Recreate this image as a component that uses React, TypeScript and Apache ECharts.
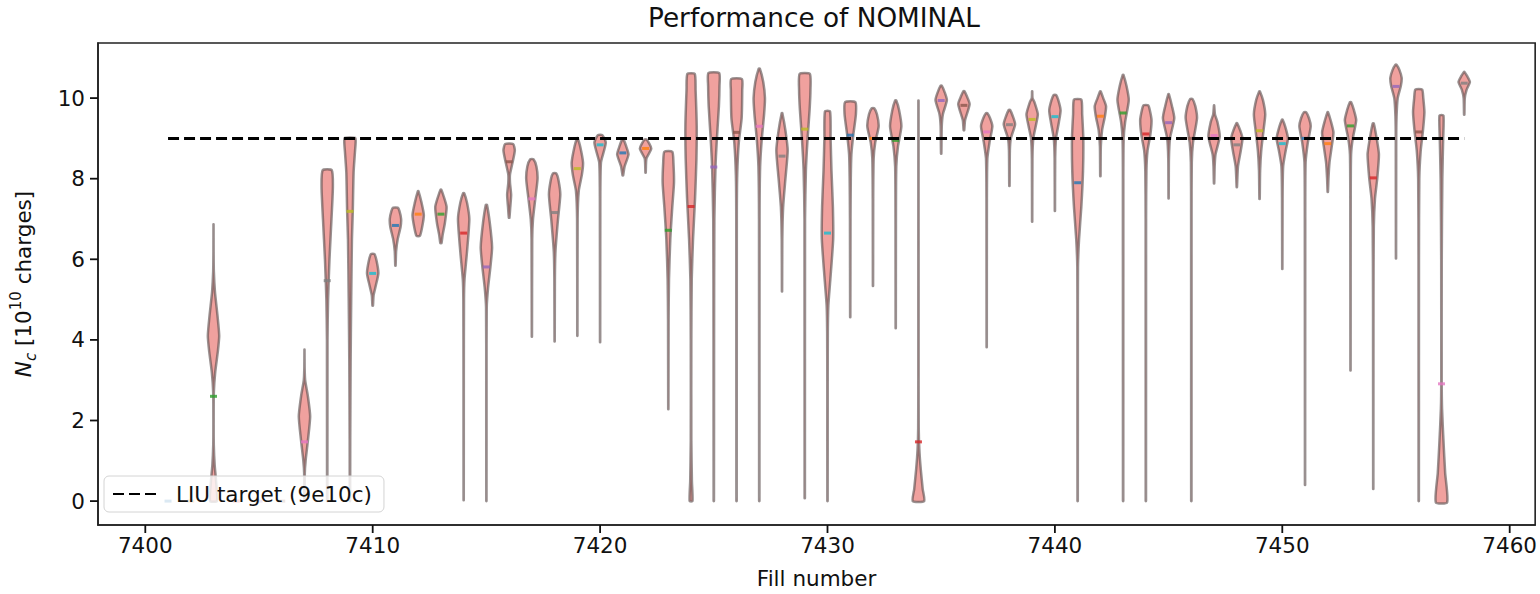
import React, { useEffect, useRef } from "react";
import * as echarts from "echarts";

const FONT = "DejaVu Sans";

const chartTitle = "Performance of NOMINAL";
const xAxisTitle = "Fill number";
const targetName = "LIU target (9e10c)";
const xTicks = [7400, 7410, 7420, 7430, 7440, 7450, 7460];
const yTicks = [0, 2, 4, 6, 8, 10];
const xRange = [7397.92, 7461.12];
const yRange = [-0.593, 11.367];
const targetValue = 9;
const targetFills = [7401, 7458];

const violinFills = [
  7403, 7407, 7408, 7409, 7410, 7411, 7412, 7413, 7414, 7415, 7416, 7417, 7418, 7419, 7420,
  7421, 7422, 7423, 7424, 7425, 7426, 7427, 7428, 7429, 7430, 7431, 7432, 7433, 7434, 7435,
  7436, 7437, 7438, 7439, 7440, 7441, 7442, 7443, 7444, 7445, 7446, 7447, 7448, 7449, 7450,
  7451, 7452, 7453, 7454, 7455, 7456, 7457, 7458,
];

// density profile of each violin: [charge, relative half-width]
const violinProfiles: number[][][] = [
  [[0, 0.6], [0.5, 0.45], [0.9, 0.2], [1.4, 0.05], [2.0, 0.03], [2.7, 0.06], [3.2, 0.3], [3.7, 0.75], [4.1, 1.0], [4.6, 0.7], [5.2, 0.25], [5.7, 0.06], [6.2, 0.02], [6.87, 0.01]],
  [[0, 0.03], [0.7, 0.06], [1.0, 0.2], [1.5, 0.6], [2.1, 1.0], [2.6, 0.6], [3.0, 0.12], [3.3, 0.03], [3.76, 0.01]],
  [[0, 0.03], [4.0, 0.05], [5.0, 0.15], [6.0, 0.4], [7.0, 0.75], [7.8, 1.0], [8.21, 0.8]],
  [[0, 0.03], [1.5, 0.05], [3.5, 0.12], [5, 0.22], [6.5, 0.35], [7.2, 0.5], [8.15, 0.64], [8.7, 0.9], [8.9, 1.0], [9.01, 0.93]],
  [[4.85, 0.05], [5.1, 0.15], [5.35, 0.55], [5.65, 1.0], [5.95, 0.7], [6.13, 0.3]],
  [[5.84, 0.03], [6.2, 0.12], [6.5, 0.4], [6.8, 0.9], [7.0, 1.0], [7.2, 0.7], [7.28, 0.4]],
  [[6.58, 0.3], [6.8, 0.7], [7.1, 1.0], [7.4, 0.6], [7.69, 0.05]],
  [[6.4, 0.1], [6.6, 0.3], [6.9, 0.7], [7.3, 1.0], [7.6, 0.4], [7.73, 0.05]],
  [[0.02, 0.02], [3, 0.03], [5, 0.06], [5.5, 0.15], [6.2, 0.6], [7.0, 1.0], [7.4, 0.6], [7.64, 0.1]],
  [[0, 0.02], [3, 0.03], [4.8, 0.06], [5.3, 0.3], [5.8, 0.7], [6.3, 1.0], [6.9, 0.6], [7.35, 0.1]],
  [[7.03, 0.05], [7.3, 0.2], [7.6, 0.35], [7.9, 0.15], [8.1, 0.15], [8.4, 0.6], [8.7, 1.0], [8.86, 0.7]],
  [[4.08, 0.02], [6.5, 0.06], [7.0, 0.2], [7.5, 0.6], [8.0, 1.0], [8.3, 0.8], [8.48, 0.3]],
  [[3.96, 0.02], [5.5, 0.05], [6.2, 0.15], [7.0, 0.6], [7.6, 1.0], [7.95, 0.7], [8.13, 0.3]],
  [[4.1, 0.02], [7.0, 0.05], [7.7, 0.25], [8.1, 0.8], [8.4, 1.0], [8.8, 0.5], [9.01, 0.05]],
  [[3.94, 0.02], [7.5, 0.04], [8.4, 0.15], [8.7, 0.7], [8.9, 1.0], [9.08, 0.4]],
  [[8.08, 0.05], [8.3, 0.3], [8.6, 1.0], [8.8, 0.6], [9.0, 0.05]],
  [[8.15, 0.03], [8.5, 0.15], [8.75, 1.0], [8.97, 0.2]],
  [[2.28, 0.02], [4.5, 0.05], [5.5, 0.12], [6.5, 0.35], [7.3, 0.7], [7.9, 1.0], [8.4, 0.9], [8.67, 0.7]],
  [[0, 0.25], [0.5, 0.15], [1.5, 0.05], [4, 0.05], [5.5, 0.12], [6.5, 0.35], [7.5, 0.7], [8.5, 0.95], [9.3, 1.0], [10.2, 0.8], [10.6, 0.65]],
  [[0, 0.03], [4, 0.05], [7, 0.1], [8.3, 0.3], [9.0, 0.55], [9.8, 0.9], [10.3, 1.0], [10.62, 0.95]],
  [[0, 0.03], [7, 0.05], [8.1, 0.12], [8.9, 0.4], [9.5, 0.9], [10.2, 1.0], [10.47, 0.95]],
  [[0, 0.03], [7, 0.05], [8.3, 0.15], [9.0, 0.45], [9.6, 0.85], [10.0, 1.0], [10.4, 0.7], [10.73, 0.1]],
  [[5.2, 0.02], [6.5, 0.05], [7.3, 0.2], [8.0, 0.6], [8.7, 1.0], [9.2, 0.6], [9.63, 0.05]],
  [[0.07, 0.03], [7, 0.05], [8.2, 0.2], [9.0, 0.5], [9.7, 0.85], [10.2, 1.0], [10.6, 0.9]],
  [[0, 0.03], [3, 0.04], [4.2, 0.06], [4.85, 0.15], [5.5, 0.5], [6.5, 1.0], [7.3, 0.95], [8.2, 0.7], [9.0, 0.55], [9.67, 0.45]],
  [[4.56, 0.02], [7, 0.05], [8.0, 0.1], [8.6, 0.2], [9.1, 0.55], [9.6, 1.0], [9.9, 0.9]],
  [[5.34, 0.02], [7.5, 0.04], [8.5, 0.12], [8.9, 0.4], [9.3, 1.0], [9.6, 0.7], [9.75, 0.2]],
  [[4.29, 0.02], [7, 0.04], [8.3, 0.1], [8.8, 0.4], [9.3, 1.0], [9.7, 0.6], [9.94, 0.1]],
  [[0, 1.0], [0.3, 0.75], [0.8, 0.4], [1.3, 0.15], [1.8, 0.05], [3, 0.03], [9.94, 0.02]],
  [[8.62, 0.03], [9.3, 0.1], [9.6, 0.3], [9.95, 1.0], [10.15, 0.6], [10.31, 0.1]],
  [[9.2, 0.05], [9.45, 0.2], [9.85, 1.0], [10.05, 0.5], [10.17, 0.1]],
  [[3.82, 0.02], [7.5, 0.04], [8.5, 0.12], [8.9, 0.5], [9.3, 1.0], [9.5, 0.6], [9.63, 0.1]],
  [[7.82, 0.03], [8.7, 0.08], [9.0, 0.25], [9.35, 1.0], [9.55, 0.6], [9.71, 0.1]],
  [[6.93, 0.02], [8.5, 0.05], [9.0, 0.2], [9.35, 0.7], [9.6, 1.0], [9.9, 0.4], [10.0, 0.06], [10.17, 0.02]],
  [[7.2, 0.02], [8.5, 0.05], [9.0, 0.2], [9.4, 0.7], [9.7, 1.0], [9.95, 0.6], [10.08, 0.2]],
  [[0, 0.03], [4, 0.04], [5.8, 0.06], [6.5, 0.25], [7.3, 0.65], [8.2, 0.95], [9.0, 1.0], [9.6, 0.8], [9.96, 0.65]],
  [[8.06, 0.03], [8.8, 0.08], [9.2, 0.3], [9.55, 0.8], [9.8, 1.0], [10.0, 0.5], [10.17, 0.05]],
  [[0, 0.03], [8, 0.04], [9.0, 0.1], [9.4, 0.35], [9.95, 1.0], [10.3, 0.6], [10.58, 0.05]],
  [[0, 0.03], [7, 0.04], [8.2, 0.1], [8.7, 0.3], [9.1, 0.8], [9.45, 1.0], [9.7, 0.7], [9.82, 0.4]],
  [[7.51, 0.02], [8.5, 0.06], [9.0, 0.25], [9.5, 1.0], [9.8, 0.6], [10.1, 0.05]],
  [[0, 0.03], [7, 0.04], [8.4, 0.08], [8.9, 0.3], [9.5, 1.0], [9.8, 0.7], [9.98, 0.2]],
  [[7.88, 0.03], [8.3, 0.1], [8.6, 0.25], [9.05, 1.0], [9.4, 0.6], [9.6, 0.15], [9.82, 0.02]],
  [[7.79, 0.03], [8.3, 0.2], [8.7, 0.7], [9.0, 1.0], [9.2, 0.6], [9.38, 0.05]],
  [[7.5, 0.03], [8.2, 0.1], [8.7, 0.3], [9.2, 0.7], [9.6, 1.0], [9.95, 0.6], [10.17, 0.05]],
  [[5.76, 0.02], [7.5, 0.05], [8.3, 0.15], [8.7, 0.6], [9.0, 1.0], [9.3, 0.5], [9.47, 0.05]],
  [[0.4, 0.02], [7, 0.04], [8.4, 0.1], [8.9, 0.5], [9.3, 1.0], [9.5, 0.7], [9.65, 0.2]],
  [[7.67, 0.03], [8.0, 0.12], [8.4, 0.3], [8.8, 0.7], [9.15, 1.0], [9.45, 0.5], [9.65, 0.05]],
  [[3.24, 0.02], [7.5, 0.04], [8.6, 0.1], [9.0, 0.4], [9.45, 1.0], [9.7, 0.6], [9.9, 0.1]],
  [[0.3, 0.02], [5, 0.04], [6.8, 0.1], [7.5, 0.3], [8.0, 0.7], [8.6, 1.0], [9.0, 0.6], [9.37, 0.1]],
  [[6.02, 0.02], [9.0, 0.04], [9.55, 0.1], [10.0, 0.3], [10.3, 0.85], [10.5, 1.0], [10.7, 0.6], [10.83, 0.1]],
  [[0, 0.03], [6, 0.04], [8.0, 0.1], [8.7, 0.35], [9.2, 0.75], [9.65, 1.0], [10.0, 0.8], [10.21, 0.6]],
  [[-0.03, 1.0], [0.7, 0.65], [1.5, 0.35], [2.3, 0.1], [3.0, 0.04], [6, 0.05], [8.0, 0.15], [9.0, 0.3], [9.57, 0.35]],
  [[9.59, 0.03], [10.0, 0.1], [10.2, 0.4], [10.4, 1.0], [10.55, 0.5], [10.65, 0.05]],
];

const medianFills = [
  7401, 7402, 7403, 7404, 7405, 7406, 7407, 7408, 7409, 7410, 7411, 7412, 7413, 7414, 7415,
  7416, 7417, 7418, 7419, 7420, 7421, 7422, 7423, 7424, 7425, 7426, 7427, 7428, 7429, 7430,
  7431, 7432, 7433, 7434, 7435, 7436, 7437, 7438, 7439, 7440, 7441, 7442, 7443, 7444, 7445,
  7446, 7447, 7448, 7449, 7450, 7451, 7452, 7453, 7454, 7455, 7456, 7457, 7458,
];
const medianValues = [
  0.0, 0.0, 2.6, 0.0, 0.0, 0.0, 1.47, 5.47, 7.19, 5.65, 6.84, 7.12, 7.12, 6.65, 5.81,
  8.42, 7.5, 7.16, 8.25, 8.84, 8.64, 8.75, 6.72, 7.31, 8.29, 9.15, 9.3, 8.56, 9.23, 6.65,
  9.08, 9.0, 8.95, 1.47, 9.94, 9.82, 9.16, 9.34, 9.47, 9.54, 7.9, 9.55, 9.63, 9.11, 9.39,
  9.0, 9.07, 8.84, 9.19, 8.87, 9.0, 8.87, 9.31, 8.02, 10.29, 9.16, 2.91, 10.37,
];

const cycleColors = [
  "#1f77b4", "#ff7f0e", "#2ca02c", "#d62728", "#9467bd",
  "#8c564b", "#e377c2", "#7f7f7f", "#bcbd22", "#17becf",
];

const TICK_LEN = 8;

export default function App() {
  const ref = useRef<HTMLDivElement>(null);

  useEffect(() => {
    if (!ref.current) return;
    const chart = echarts.init(ref.current, undefined, { renderer: "svg" });
    const axisText = { fontFamily: FONT, fontSize: 21.5, color: "#111" };
    const spine = { show: true, onZero: false, lineStyle: { color: "#222", width: 1.6 } };

    const option: any = {
      animation: false,
      backgroundColor: "#fff",
      title: {
        text: chartTitle,
        left: 648,
        top: 5,
        padding: 0,
        textStyle: { fontFamily: FONT, fontSize: 26.3, fontWeight: "normal", color: "#111" },
      },
      grid: {
        left: 95,
        right: 3,
        top: 43,
        bottom: 67.3,
        show: true,
        borderColor: "#222",
        borderWidth: 1.6,
        backgroundColor: "transparent",
      },
      legend: {
        data: [targetName],
        left: 104,
        top: 476,
        orient: "horizontal",
        itemWidth: 46,
        itemHeight: 14,
        padding: [7, 12, 7, 8],
        backgroundColor: "rgba(255,255,255,0.8)",
        borderColor: "#d4d4d4",
        borderWidth: 1,
        borderRadius: 5,
        z: 20,
        itemStyle: { color: "transparent", borderWidth: 0, opacity: 0 },
        textStyle: { fontFamily: FONT, fontSize: 21.5, color: "#111", padding: [0, 0, 0, 12] },
      },
      xAxis: {
        type: "value",
        min: xRange[0],
        max: xRange[1],
        name: xAxisTitle,
        nameLocation: "middle",
        nameGap: 42,
        nameTextStyle: axisText,
        axisLine: spine,
        splitLine: { show: false },
        axisTick: { show: false },
        axisLabel: { customValues: xTicks, margin: 9, formatter: (v: number) => String(v), ...axisText },
      },
      yAxis: {
        type: "value",
        min: yRange[0],
        max: yRange[1],
        name: "{ni|N}{sub|c} [10{sup|10} charges]",
        nameLocation: "middle",
        nameRotate: 90,
        nameGap: 60,
        nameTextStyle: {
          ...axisText,
          lineHeight: 30,
          rich: {
            ni: { fontFamily: FONT, fontSize: 21.5, fontStyle: "italic", color: "#111", lineHeight: 30, verticalAlign: "middle" },
            sub: { fontFamily: FONT, fontSize: 15, fontStyle: "italic", color: "#111", lineHeight: 15, verticalAlign: "bottom" },
            sup: { fontFamily: FONT, fontSize: 15, color: "#111", lineHeight: 15, verticalAlign: "top" },
          },
        },
        axisLine: spine,
        splitLine: { show: false },
        axisTick: { show: false },
        axisLabel: { customValues: yTicks, margin: 13, formatter: (v: number) => String(v), ...axisText },
      },
      series: [
        {
          type: "custom",
          name: "violins",
          coordinateSystem: "cartesian2d",
          z: 2,
          data: violinFills.map((f, i) => [f, i]),
          encode: { x: 0 },
          renderItem: (params: any, api: any) => {
            const i = params.dataIndex;
            const pos = violinFills[i];
            const prof = violinProfiles[i];
            const right = prof.map(([y, w]) => api.coord([pos + 0.25 * w, y]));
            const left = prof
              .slice()
              .reverse()
              .map(([y, w]) => api.coord([pos - 0.25 * w, y]));
            return {
              type: "polygon",
              shape: { points: right.concat(left), smooth: 0.2 },
              style: {
                fill: "#f0a19e",
                stroke: "rgba(90,78,78,0.62)",
                lineWidth: 2.5,
                lineJoin: "round",
              },
            };
          },
        },
        {
          type: "scatter",
          name: "medians",
          z: 3,
          symbol: "rect",
          symbolSize: [7, 3],
          data: medianFills.map((f, i) => ({
            value: [f, medianValues[i]],
            itemStyle: { color: cycleColors[(f - 7401) % 10] },
          })),
        },
        {
          type: "line",
          name: targetName,
          z: 4,
          symbol: "none",
          data: targetFills.map((f) => [f, targetValue]),
          lineStyle: { color: "#000", width: 3, type: [11, 5] },
          itemStyle: { color: "#000" },
        },
      ],
    };

    chart.setOption(option);

    // tick marks, positioned through the chart's own scales
    const tickEls: any[] = [];
    xTicks.forEach((v) => {
      const p = chart.convertToPixel({ gridIndex: 0 }, [v, yRange[0]]) as number[];
      if (p && isFinite(p[0]) && isFinite(p[1])) {
        tickEls.push({
          type: "rect",
          z: 30,
          silent: true,
          shape: { x: p[0] - 0.9, y: p[1], width: 1.8, height: TICK_LEN },
          style: { fill: "#111" },
        });
      }
    });
    yTicks.forEach((v) => {
      const p = chart.convertToPixel({ gridIndex: 0 }, [xRange[0], v]) as number[];
      if (p && isFinite(p[0]) && isFinite(p[1])) {
        tickEls.push({
          type: "rect",
          z: 30,
          silent: true,
          shape: { x: p[0] - TICK_LEN, y: p[1] - 0.9, width: TICK_LEN, height: 1.8 },
          style: { fill: "#111" },
        });
      }
    });
    chart.setOption({ graphic: { elements: tickEls } });

    return () => chart.dispose();
  }, []);

  return (
    <div
      ref={ref}
      style={{ position: "fixed", left: 0, top: 0, width: 1540, height: 594, background: "#fff" }}
    />
  );
}
